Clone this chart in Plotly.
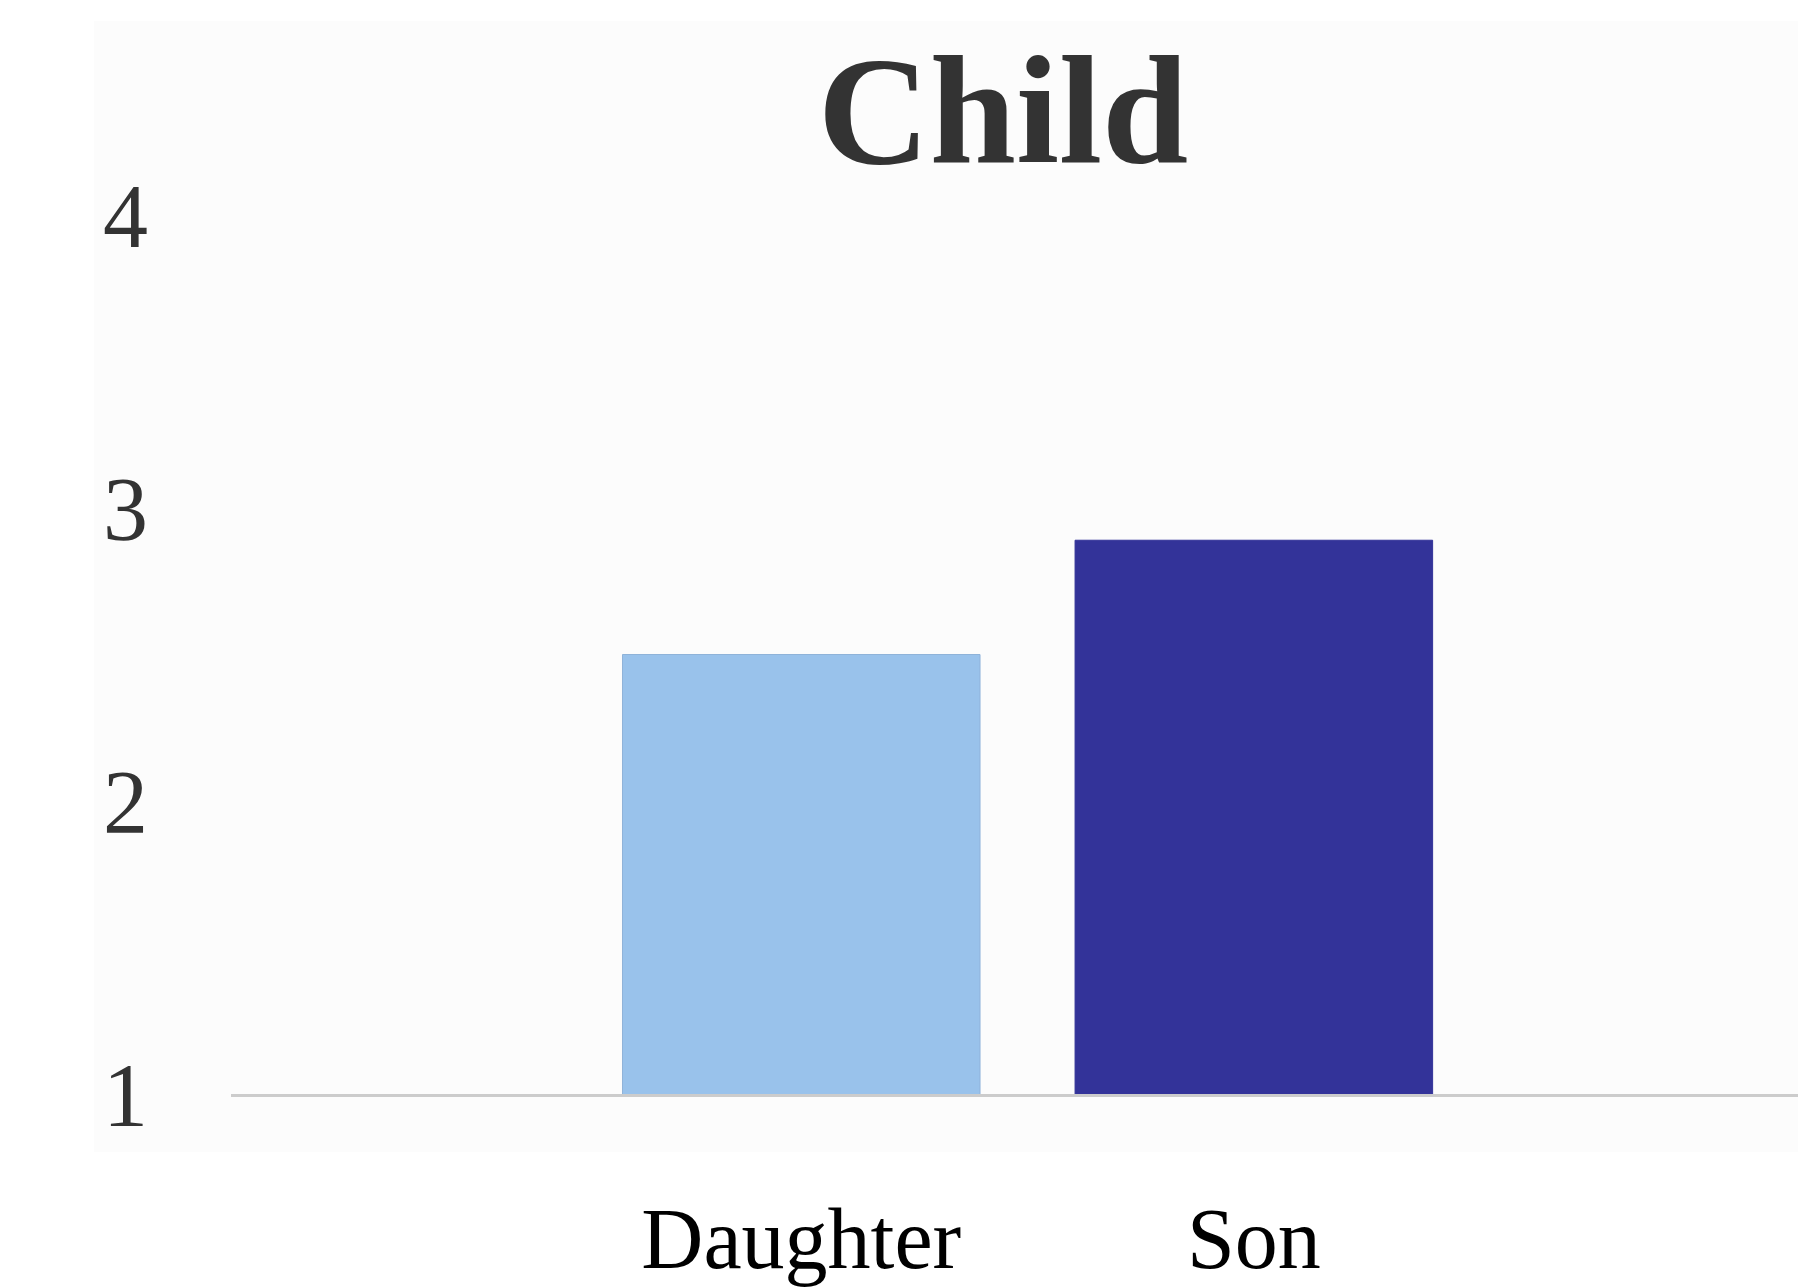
import plotly.graph_objects as go

categories = ["Daughter", "Son"]
values = [2.5, 2.89]
bar_colors = ["#99c2eb", "#333399"]
y_ticks = [1, 2, 3, 4]
title_text = "Child"

W, H = 1806, 1287
left, right, top, bottom = 223, 8, 207, 201

fig = go.Figure()
fig.add_trace(go.Bar(
    x=categories,
    y=values,
    marker=dict(color=bar_colors, line=dict(color=["#8fb3d9", "#333399"], width=1)),
    width=0.79,
    showlegend=False,
))

fig.update_layout(
    width=W, height=H,
    margin=dict(l=left, r=right, t=top, b=bottom, pad=0, autoexpand=False),
    paper_bgcolor="white",
    plot_bgcolor="white",
    title=dict(
        text="<b>" + title_text + "</b>",
        font=dict(family="Liberation Serif", size=155, color="#333333"),
        x=995 / W, xref="container", xanchor="center",
        y=1 - 101 / H, yref="container", yanchor="middle",
    ),
    xaxis=dict(
        range=[-1.26, 2.22],
        automargin=False,
        showgrid=False,
        showline=True, linecolor="#cccccc", linewidth=3,
        ticks="",
        tickfont=dict(family="Liberation Serif", size=86, color="#000000"),
        ticklabelstandoff=68,
        zeroline=False,
        fixedrange=True,
    ),
    yaxis=dict(
        range=[1, 4],
        automargin=False,
        tickvals=y_ticks,
        showgrid=False,
        showline=False,
        zeroline=False,
        ticks="",
        tickfont=dict(family="Liberation Serif", size=90, color="#333333"),
        ticklabelstandoff=82,
        fixedrange=True,
    ),
    shapes=[dict(
        type="rect", xref="paper", yref="paper", layer="below",
        x0=-137 / (W - left - right), x1=1.01,
        y0=-58 / (H - top - bottom), y1=1 + 194 / (H - top - bottom),
        fillcolor="#fcfcfc", line=dict(width=0),
    )],
)

fig.write_html("out.html")
